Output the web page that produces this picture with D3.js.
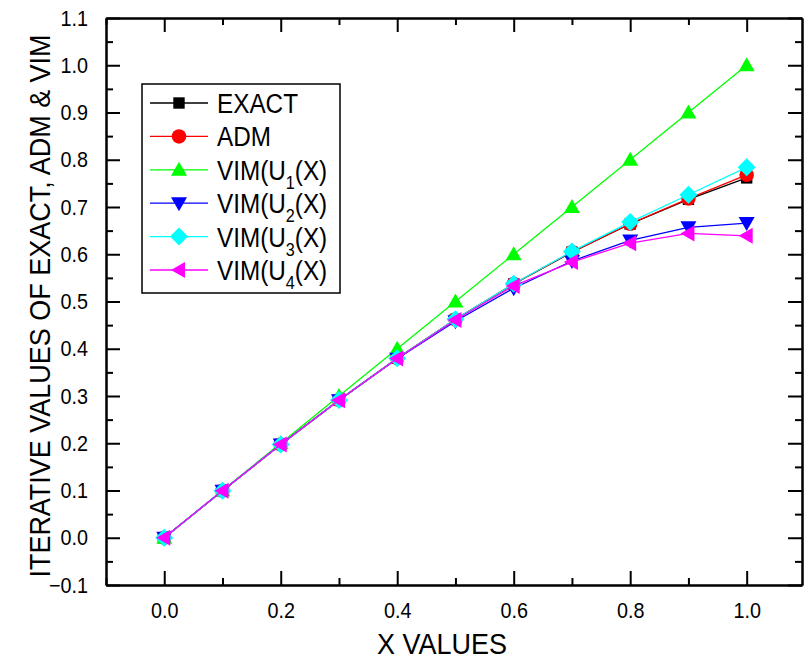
<!DOCTYPE html>
<html>
<head>
<meta charset="utf-8">
<script src="https://d3js.org/d3.v7.min.js"></script>
<style>
  body { margin: 0; background: #fff; }
  text { font-family: "Liberation Sans", Arial, sans-serif; }
</style>
</head>
<body>
<script>
// data
var xValues = [0, 0.1, 0.2, 0.3, 0.4, 0.5, 0.6, 0.7, 0.8, 0.9, 1.0];
var exact = [0, 0.0997, 0.1974, 0.2913, 0.3799, 0.4621, 0.5370, 0.6044, 0.6640, 0.7163, 0.7616];
var adm   = [0, 0.0997, 0.1974, 0.2913, 0.3799, 0.4621, 0.5371, 0.6046, 0.6645, 0.7178, 0.7680];
var vim1  = [0, 0.1, 0.2, 0.3, 0.4, 0.5, 0.6, 0.7, 0.8, 0.9, 1.0];
var vim2  = [0, 0.0997, 0.1973, 0.2910, 0.3787, 0.4583, 0.5280, 0.5857, 0.6293, 0.6570, 0.6660];
var vim3  = [0, 0.0997, 0.1974, 0.2913, 0.3799, 0.4623, 0.5376, 0.6060, 0.6680, 0.7260, 0.7840];
var vim4  = [0, 0.0997, 0.1974, 0.2912, 0.3795, 0.4610, 0.5330, 0.5835, 0.6235, 0.6440, 0.6390];
var xTicks = [0, 0.2, 0.4, 0.6, 0.8, 1.0];
var yTicks = [-0.1, 0, 0.1, 0.2, 0.3, 0.4, 0.5, 0.6, 0.7, 0.8, 0.9, 1.0, 1.1];

var series = [
  {name: "EXACT", sub: null, data: exact, color: "#000000", symbol: "square"},
  {name: "ADM", sub: null, data: adm, color: "#ff0000", symbol: "circle"},
  {name: "VIM(U", sub: "1", data: vim1, color: "#00ff00", symbol: "up"},
  {name: "VIM(U", sub: "2", data: vim2, color: "#0000ff", symbol: "down"},
  {name: "VIM(U", sub: "3", data: vim3, color: "#00ffff", symbol: "diamond"},
  {name: "VIM(U", sub: "4", data: vim4, color: "#ff00ff", symbol: "left"}
];

var W = 805, H = 662;
var pLeft = 106, pRight = 802, pTop = 18, pBottom = 585;
var squeeze = 0.9; // the original font is a bit narrower than Arial

var svg = d3.select("body").append("svg")
    .attr("width", W)
    .attr("height", H);

var x = d3.scaleLinear().domain([-0.1, 1.095]).range([pLeft, pRight]);
var y = d3.scaleLinear().domain([-0.1, 1.1]).range([pBottom, pTop]);

var fmt = d3.format(".1f");
var xMinor = [-0.1, 0.1, 0.3, 0.5, 0.7, 0.9];
var yMinor = d3.range(-0.05, 1.1, 0.1).map(function(d) { return +d.toFixed(2); });

function styleAxis(g) {
  g.select(".domain").attr("stroke", "#000").attr("stroke-width", 2);
  g.selectAll(".tick line").attr("stroke", "#000").attr("stroke-width", 2);
  g.selectAll(".tick text").attr("fill", "#000").style("font-size", "22px")
    .style("font-family", "'Liberation Sans', Arial, sans-serif")
    .attr("transform", function() {
      var tx = +d3.select(this).attr("x") || 0;
      return "translate(" + tx + ",0) scale(" + squeeze + ",1) translate(" + (-tx) + ",0)";
    });
}

// bottom axis
svg.append("g").attr("transform", "translate(0," + pBottom + ")")
  .call(d3.axisBottom(x).tickValues(xTicks).tickFormat(fmt).tickSize(-14).tickSizeOuter(0).tickPadding(17))
  .call(styleAxis);
svg.append("g").attr("transform", "translate(0," + pBottom + ")")
  .call(d3.axisBottom(x).tickValues(xMinor).tickFormat("").tickSize(-7).tickSizeOuter(0))
  .call(styleAxis);
// top axis
svg.append("g").attr("transform", "translate(0," + pTop + ")")
  .call(d3.axisTop(x).tickValues(xTicks).tickFormat("").tickSize(-14).tickSizeOuter(0))
  .call(styleAxis);
svg.append("g").attr("transform", "translate(0," + pTop + ")")
  .call(d3.axisTop(x).tickValues(xMinor).tickFormat("").tickSize(-7).tickSizeOuter(0))
  .call(styleAxis);
// left axis
svg.append("g").attr("transform", "translate(" + pLeft + ",0)")
  .call(d3.axisLeft(y).tickValues(yTicks).tickFormat(fmt).tickSize(-14).tickSizeOuter(0).tickPadding(18))
  .call(styleAxis);
svg.append("g").attr("transform", "translate(" + pLeft + ",0)")
  .call(d3.axisLeft(y).tickValues(yMinor).tickFormat("").tickSize(-7).tickSizeOuter(0))
  .call(styleAxis);
// right axis
svg.append("g").attr("transform", "translate(" + pRight + ",0)")
  .call(d3.axisRight(y).tickValues(yTicks).tickFormat("").tickSize(-14).tickSizeOuter(0))
  .call(styleAxis);
svg.append("g").attr("transform", "translate(" + pRight + ",0)")
  .call(d3.axisRight(y).tickValues(yMinor).tickFormat("").tickSize(-7).tickSizeOuter(0))
  .call(styleAxis);

// axis titles
svg.append("text")
  .attr("transform", "translate(442,654) scale(" + squeeze + ",1)")
  .attr("text-anchor", "middle")
  .style("font-size", "30px")
  .text("X VALUES");

svg.append("text")
  .attr("transform", "translate(50,306) rotate(-90) scale(" + squeeze + ",1)")
  .attr("text-anchor", "middle")
  .style("font-size", "30px")
  .text("ITERATIVE VALUES OF EXACT, ADM & VIM");

// symbols
function symbolPath(kind) {
  switch (kind) {
    case "square": return d3.symbol().type(d3.symbolSquare).size(130)();
    case "circle": return d3.symbol().type(d3.symbolCircle).size(165)();
    case "up": return "M0,-8L8,6L-8,6Z";
    case "down": return "M0,8L8,-6L-8,-6Z";
    case "left": return "M-8,0L6,-8L6,8Z";
    case "diamond": return "M0,-9L9,0L0,9L-9,0Z";
  }
}

var line = d3.line()
  .x(function(d, i) { return x(xValues[i]); })
  .y(function(d) { return y(d); });

series.forEach(function(s) {
  var g = svg.append("g");
  g.append("path")
    .attr("d", line(s.data))
    .attr("fill", "none")
    .attr("stroke", s.color)
    .attr("stroke-width", 1.3);
  g.selectAll("path.mark")
    .data(s.data)
    .enter().append("path")
    .attr("class", "mark")
    .attr("transform", function(d, i) { return "translate(" + x(xValues[i]) + "," + y(d) + ")"; })
    .attr("d", symbolPath(s.symbol))
    .attr("fill", s.color);
});

// legend
var lg = svg.append("g");
lg.append("rect")
  .attr("x", 142).attr("y", 84)
  .attr("width", 198).attr("height", 209)
  .attr("fill", "#fff")
  .attr("stroke", "#000")
  .attr("stroke-width", 1.5);

var rowY = d3.scaleLinear().domain([0, 5]).range([103, 270]);
series.forEach(function(s, i) {
  var cy = rowY(i);
  lg.append("line")
    .attr("x1", 150).attr("x2", 208)
    .attr("y1", cy).attr("y2", cy)
    .attr("stroke", s.color).attr("stroke-width", 1.3);
  lg.append("path")
    .attr("transform", "translate(179," + cy + ")")
    .attr("d", symbolPath(s.symbol))
    .attr("fill", s.color);
  var t = lg.append("text")
    .attr("transform", "translate(217," + (cy + 10) + ") scale(" + squeeze + ",1)")
    .style("font-size", "27px");
  t.append("tspan").text(s.name);
  if (s.sub) {
    t.append("tspan").attr("dy", 9).style("font-size", "18px").text(s.sub);
    t.append("tspan").attr("dy", -9).text("(X)");
  }
});
</script>
</body>
</html>
